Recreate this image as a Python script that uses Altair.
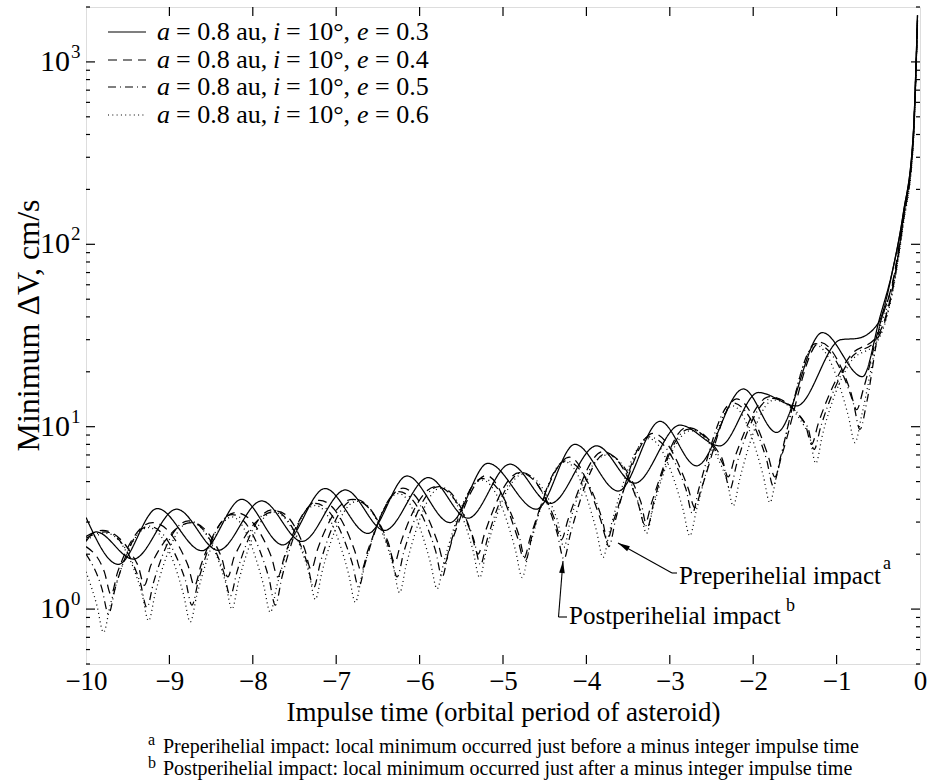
import altair as alt
import pandas as pd

FONT = "Liberation Serif"

# ---------------- axis values ----------------
x_ticks = [-10, -9, -8, -7, -6, -5, -4, -3, -2, -1, 0]
y_major = [1, 10, 100, 1000]
y_exp = ["0", "1", "2", "3"]
y_minor = [0.5, 0.6, 0.7, 0.8, 0.9, 2, 3, 4, 5, 6, 7, 8, 9, 20, 30, 40, 50, 60, 70, 80, 90,
           200, 300, 400, 500, 600, 700, 800, 900, 2000]

# ---------------- curves ----------------
# e = 0.3 (solid), two branches
s3_pre_x = [-10, -9.613, -9.145, -8.61, -8.133, -7.64, -7.134, -6.62, -6.15, -5.635, -5.18, -4.6, -4.137,
            -3.618, -3.117, -2.68, -2.118, -1.72, -1.17, -0.69, -0.48, -0.32, -0.2, -0.08, -0.05, -0.03]
s3_pre_y = [3.18, 1.76, 3.56, 2.09, 4.0, 2.25, 4.58, 2.6, 5.37, 2.98, 6.3, 3.53, 8.0,
            4.44, 10.7, 6.1, 16.1, 9.3, 32.8, 18.8, 40, 75, 148, 406, 900, 1800]
s3_post_x = [-10, -9.88, -9.433, -8.913, -8.413, -7.893, -7.41, -6.89, -6.42, -5.895, -5.42, -4.916, -4.43,
             -3.877, -3.42, -2.878, -2.4, -1.938, -1.48, -0.95, -0.75, -0.5, -0.32, -0.2, -0.08, -0.05, -0.03]
s3_post_y = [2.35, 2.65, 1.88, 3.53, 2.10, 3.92, 2.35, 4.5, 2.7, 5.26, 3.15, 6.23, 3.8,
             7.85, 4.9, 10.2, 7.85, 15.4, 13.0, 30, 30.5, 37, 75, 148, 406, 900, 1800]

# e = 0.4 (dashed)
s4_pre_x = [-10, -9.78, -9.7, -9.62, -9.2, -8.78, -8.7, -8.62, -8.2, -7.78, -7.7, -7.62, -7.2,
            -6.78, -6.7, -6.62, -6.2, -5.78, -5.7, -5.62, -5.2, -4.83, -4.75, -4.67, -4.2,
            -3.83, -3.75, -3.67, -3.2, -2.78, -2.7, -2.62, -2.2, -1.82, -1.74, -1.66, -1.2,
            -0.84, -0.76, -0.68, -0.5, -0.3, -0.2, -0.08, -0.05, -0.03]
s4_pre_y = [2.2, 1.6, 1.2, 1.6, 2.98, 1.75, 1.34, 1.75, 3.38, 1.95, 1.5, 1.95, 3.95,
            2.1, 1.62, 2.1, 4.6, 2.3, 1.78, 2.3, 5.4, 2.5, 1.9, 2.5, 6.8,
            3.1, 2.4, 3.1, 9.2, 4.6, 3.6, 4.6, 14.2, 6.9, 5.3, 6.9, 29,
            16, 12.4, 16, 34, 72, 142, 390, 870, 1720]
s4_post_x = [-10, -9.8, -9.38, -9.3, -9.22, -8.73, -8.38, -8.3, -8.22, -7.71, -7.38, -7.3, -7.22,
             -6.8, -6.38, -6.3, -6.22, -5.8, -5.38, -5.3, -5.22, -4.8, -4.38, -4.3, -4.22,
             -3.8, -3.38, -3.3, -3.22, -2.8, -2.38, -2.3, -2.22, -1.8, -1.38, -1.3, -1.22,
             -0.85, -0.5, -0.3, -0.2, -0.08, -0.05, -0.03]
s4_post_y = [2.5, 2.7, 1.75, 1.35, 1.75, 2.98, 1.95, 1.5, 1.95, 3.45, 2.15, 1.65, 2.15,
             4.0, 2.35, 1.8, 2.35, 4.7, 2.6, 2.0, 2.6, 5.6, 3.1, 2.4, 3.1,
             7.3, 3.8, 2.9, 3.8, 9.9, 6.8, 5.3, 6.8, 14.6, 10.4, 8.0, 10.4,
             24, 32, 68, 138, 380, 840, 1700]

# e = 0.5 (dash-dot)
s5_pre_x = [-10, -9.81, -9.73, -9.65, -9.25, -8.81, -8.73, -8.65, -8.25, -7.81, -7.73, -7.65, -7.25,
            -6.81, -6.73, -6.65, -6.25, -5.81, -5.73, -5.65, -5.25, -4.81, -4.73, -4.65, -4.25,
            -3.81, -3.73, -3.65, -3.25, -2.81, -2.73, -2.65, -2.25, -1.84, -1.76, -1.68, -1.25,
            -0.8, -0.72, -0.64, -0.5, -0.3, -0.2, -0.08, -0.05, -0.03]
s5_pre_y = [2.0, 1.3, 0.94, 1.3, 2.85, 1.45, 1.05, 1.45, 3.3, 1.5, 1.05, 1.5, 3.8,
            1.8, 1.32, 1.8, 4.4, 2.1, 1.5, 2.1, 5.2, 2.55, 1.85, 2.55, 6.5,
            3.1, 2.2, 3.1, 8.8, 4.6, 3.35, 4.6, 13.5, 6.6, 4.73, 6.6, 28.5,
            13.5, 9.66, 13.5, 33, 70, 140, 385, 860, 1700]
s5_post_x = [-10, -9.77, -9.35, -9.27, -9.19, -8.77, -8.35, -8.27, -8.19, -7.77, -7.35, -7.27, -7.19,
             -6.77, -6.35, -6.27, -6.19, -5.77, -5.35, -5.27, -5.19, -4.77, -4.35, -4.27, -4.19,
             -3.77, -3.35, -3.27, -3.19, -2.77, -2.36, -2.28, -2.2, -1.77, -1.35, -1.27, -1.19,
             -0.85, -0.5, -0.3, -0.2, -0.08, -0.05, -0.03]
s5_post_y = [2.45, 2.65, 1.4, 1.02, 1.4, 3.05, 1.6, 1.18, 1.6, 3.5, 1.8, 1.31, 1.8,
             4.0, 2.05, 1.5, 2.05, 4.7, 2.4, 1.75, 2.4, 5.6, 2.6, 1.88, 2.6,
             7.1, 3.9, 2.8, 3.9, 9.7, 6.2, 4.53, 6.2, 14.3, 10, 7.5, 10,
             23, 31, 66, 134, 370, 820, 1680]

# e = 0.6 (dotted)
s6_pre_x = [-10, -9.87, -9.79, -9.71, -9.25, -8.83, -8.75, -8.67, -8.25, -7.87, -7.79, -7.71, -7.25,
            -6.85, -6.77, -6.69, -6.25, -5.87, -5.79, -5.71, -5.25, -4.85, -4.77, -4.69, -4.25,
            -3.88, -3.8, -3.72, -3.25, -2.84, -2.76, -2.68, -2.25, -1.88, -1.8, -1.72, -1.25,
            -0.86, -0.78, -0.7, -0.5, -0.3, -0.2, -0.08, -0.05, -0.03]
s6_pre_y = [1.6, 1.05, 0.745, 1.05, 2.8, 1.2, 0.85, 1.2, 3.2, 1.35, 0.96, 1.35, 3.7,
            1.55, 1.09, 1.55, 4.3, 1.8, 1.29, 1.8, 5.1, 2.1, 1.49, 2.1, 6.4,
            2.7, 1.92, 2.7, 8.6, 3.5, 2.52, 3.5, 13, 5.4, 3.84, 5.4, 28,
            11.5, 8.18, 11.5, 32, 66, 132, 365, 810, 1660]
s6_post_x = [-10, -9.75, -9.33, -9.25, -9.17, -8.75, -8.33, -8.25, -8.17, -7.75, -7.33, -7.25, -7.17,
             -6.75, -6.32, -6.24, -6.16, -5.75, -5.36, -5.28, -5.2, -4.75, -4.35, -4.27, -4.19,
             -3.75, -3.36, -3.28, -3.2, -2.75, -2.32, -2.24, -2.16, -1.75, -1.33, -1.25, -1.17,
             -0.85, -0.5, -0.3, -0.2, -0.08, -0.05, -0.03]
s6_post_y = [2.4, 2.6, 1.22, 0.863, 1.22, 3.0, 1.42, 1.0, 1.42, 3.4, 1.6, 1.13, 1.6,
             3.9, 1.75, 1.23, 1.75, 4.6, 2.1, 1.49, 2.1, 5.5, 3.1, 2.18, 3.1,
             7.0, 3.6, 2.6, 3.6, 9.5, 5.2, 3.68, 5.2, 14, 9, 6.3, 9,
             22, 30, 64, 128, 355, 790, 1640]

series_names = ["0.3", "0.4", "0.5", "0.6"]
dash_styles = [[1, 0], [9, 6], [8, 4, 1, 4], [1, 3.3]]

curves = [
    ("e3_pre", "0.3", s3_pre_x, s3_pre_y), ("e3_post", "0.3", s3_post_x, s3_post_y),
    ("e4_pre", "0.4", s4_pre_x, s4_pre_y), ("e4_post", "0.4", s4_post_x, s4_post_y),
    ("e5_pre", "0.5", s5_pre_x, s5_pre_y), ("e5_post", "0.5", s5_post_x, s5_post_y),
    ("e6_pre", "0.6", s6_pre_x, s6_pre_y), ("e6_post", "0.6", s6_post_x, s6_post_y),
]
rows = []
for cid, ser, xs, ys in curves:
    for i, (xv, yv) in enumerate(zip(xs, ys)):
        rows.append({"curve": cid, "series": ser, "x": xv, "y": yv, "order": i})
df = pd.DataFrame(rows)

W, H = 834, 657
xscale = alt.Scale(domain=[-10, 0], nice=False, zero=False)
yscale = alt.Scale(type="log", domain=[0.5, 2000], nice=False)

x_axis = alt.Axis(values=x_ticks, title="Impulse time (orbital period of asteroid)",
                  ticks=False, domain=False, grid=False,
                  labelFont=FONT, labelFontSize=27, labelColor="black",
                  labelBaseline="middle", labelPadding=17, labelFlush=False, labelOverlap=False,
                  labelExpr="datum.value < 0 ? '\u2212' + abs(datum.value) : '' + datum.value",
                  titleFont=FONT, titleFontSize=27, titleFontWeight="normal", titleColor="black",
                  titleBaseline="middle", titleY=48)
y_axis = alt.Axis(title="Minimum \u0394V, cm/s", ticks=False, labels=False, domain=False, grid=False,
                  titleFont=FONT, titleFontSize=32, titleFontWeight="normal", titleColor="black",
                  titleAngle=270, titleAlign="center", titleBaseline="middle", titleX=-58, titleY=318)

def X(field="x"):
    return alt.X(field + ":Q", scale=xscale, axis=x_axis)

def Y(field="y"):
    return alt.Y(field + ":Q", scale=yscale, axis=y_axis)

lines = alt.Chart(df).mark_line(interpolate="monotone", color="black", strokeWidth=1.25, clip=True).encode(
    x=X(), y=Y(),
    detail="curve:N",
    order="order:Q",
    strokeDash=alt.StrokeDash("series:N", scale=alt.Scale(domain=series_names, range=dash_styles), legend=None),
)

# ---------- inward ticks ----------
ymaj_df = pd.DataFrame({"y": y_major, "exp": y_exp})
ymin_df = pd.DataFrame({"y": y_minor})
xt_df = pd.DataFrame({"x": x_ticks[1:-1]})

def yrule(d, x1, x2):
    return alt.Chart(d).mark_rule(color="black", strokeWidth=1.2).encode(
        y=Y(), x=alt.value(x1), x2=alt.value(x2))

def xrule(d, y1, y2):
    return alt.Chart(d).mark_rule(color="black", strokeWidth=1.2).encode(
        x=X(), y=alt.value(y1), y2=alt.value(y2))

ticks = [yrule(ymaj_df, 0, 9), yrule(ymin_df, 0, 4), yrule(ymaj_df, W, W - 9), yrule(ymin_df, W, W - 4),
         xrule(xt_df, H, H - 9), xrule(xt_df, 0, 9)]

ylab10 = alt.Chart(ymaj_df).mark_text(font=FONT, fontSize=30, align="right", baseline="middle", color="black").encode(
    y=Y(), x=alt.value(-16), text=alt.value("10"))
ylabexp = alt.Chart(ymaj_df).mark_text(font=FONT, fontSize=19, align="left", baseline="middle", dy=-10, color="black").encode(
    y=Y(), x=alt.value(-15), text="exp:N")

# ---------- custom legend ----------
legend_rows = [25, 53, 80, 108]
legend_e = ["0.3", "0.4", "0.5", "0.6"]
legend_layers = []
one = pd.DataFrame({"k": [0]})
for ry, ev, dsh in zip(legend_rows, legend_e, dash_styles):
    legend_layers.append(alt.Chart(one).mark_rule(color="black", strokeWidth=1.2, strokeDash=dsh).encode(
        x=alt.value(22), x2=alt.value(60), y=alt.value(ry)))
    pieces = [(71, "a", "italic"), (90, "= 0.8 au,", "normal"), (187, "i", "italic"),
              (200, "= 10\u00b0,", "normal"), (271, "e", "italic"), (289, "= " + ev, "normal")]
    for px, t, st in pieces:
        legend_layers.append(alt.Chart(one).mark_text(
            font=FONT, fontSize=26, fontStyle=st, align="left", baseline="middle", color="black").encode(
            x=alt.value(px), y=alt.value(ry), text=alt.value(t)))

# ---------- annotations ----------
def seg(x1, y1, x2, y2):
    return alt.Chart(one).mark_rule(color="black", strokeWidth=1.1).encode(
        x=alt.value(x1), y=alt.value(y1), x2=alt.value(x2), y2=alt.value(y2))

def txt(x, y, t, size, align="left"):
    return alt.Chart(one).mark_text(font=FONT, fontSize=size, align=align, baseline="middle", color="black").encode(
        x=alt.value(x), y=alt.value(y), text=alt.value(t))

arrow_path = "M0,0L0.4,1.7L-0.4,1.7Z"
def head(x, y, ang):
    return alt.Chart(one).mark_point(shape=arrow_path, filled=True, color="black", size=200, opacity=1, angle=ang).encode(
        x=alt.value(x), y=alt.value(y))

annots = [
    seg(532, 536, 586, 566), seg(586, 566, 591, 566), head(532, 536, 299), txt(593, 569, "Preperihelial impact", 25),
    txt(797, 557, "a", 18),
    seg(477, 554, 472.5, 610), seg(472.5, 610, 481, 610), head(477, 554, 5), txt(483, 609, "Postperihelial impact", 25),
    txt(700, 599, "b", 18),
    txt(62, 733, "a", 16), txt(77, 740, "Preperihelial impact: local minimum occurred just before a minus integer impulse time", 20),
    txt(62, 756, "b", 16), txt(77, 762, "Postperihelial impact: local minimum occurred just after a minus integer impulse time", 20),
]

chart = alt.layer(lines, *ticks, ylab10, ylabexp, *legend_layers, *annots).properties(
    width=W, height=H,
    padding={"left": 86, "top": 7, "right": 10, "bottom": 118},
    autosize=alt.AutoSizeParams(type="none"),
).configure_view(stroke="black", strokeWidth=1.6).configure(background="white")

chart.save("out.html", embed_options={"renderer": "svg", "actions": False})
